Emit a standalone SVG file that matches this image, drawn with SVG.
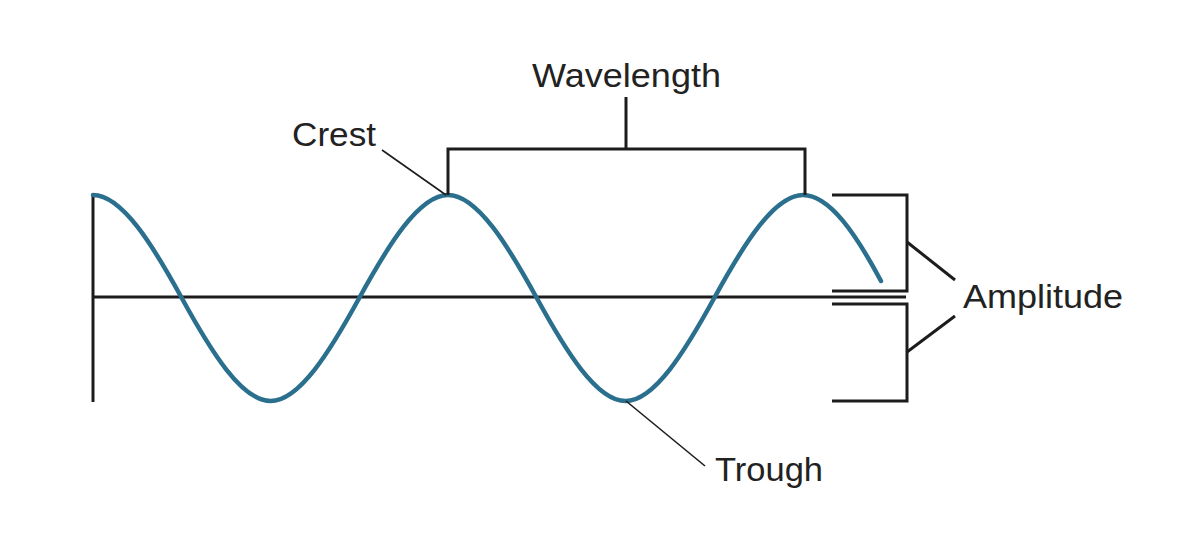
<svg xmlns="http://www.w3.org/2000/svg" width="1198" height="544" viewBox="0 0 1198 544">
<style>
.ax{stroke:#1c1c1c;stroke-width:3;fill:none;stroke-linecap:butt}
.ld{stroke:#1c1c1c;stroke-width:1.6;fill:none}
.br{stroke:#1c1c1c;stroke-width:3;fill:none;stroke-linejoin:miter}
.lb{font-family:"Liberation Sans",Arial,sans-serif;font-size:34px;fill:#222}
.wave{stroke:#2b6f8e;stroke-width:4.5;fill:none;stroke-linecap:round}
</style>
<rect width="1198" height="544" fill="#fff"/>
<g id="axes">
<line class="ax" x1="93" y1="194" x2="93" y2="402"/>
<line class="ax" x1="93" y1="297" x2="906" y2="297"/>
</g>
<g id="wave">
<path class="wave" d="M93,195 c28.9,0 59.8,50.2 88.75,103 s59.8,103 88.75,103 s59.8,-50.2 88.75,-103 s59.8,-103 88.75,-103 s59.8,50.2 88.75,103 s59.8,103 88.75,103 s59.8,-50.2 88.75,-103 s59.8,-103 88.75,-103 C829.7,195 856.3,234.8 881,281"/>
</g>
<g id="connectors">
<line class="ld" x1="382" y1="150" x2="446" y2="195"/>
<line class="ld" x1="626" y1="401" x2="705" y2="466"/>
<line class="ax" x1="907" y1="242" x2="955" y2="280"/>
<line class="ax" x1="907" y1="352" x2="955" y2="316"/>
</g>
<g id="wavelength">
<path class="br" d="M448,195 V149 H805 V195 M626,149 V97"/>
<text class="lb" x="626.5" y="87" text-anchor="middle" textLength="189" lengthAdjust="spacingAndGlyphs">Wavelength</text>
</g>
<g id="crest">
<text class="lb" x="292" y="146" textLength="84" lengthAdjust="spacingAndGlyphs">Crest</text>
</g>
<g id="trough">
<text class="lb" x="715" y="481" textLength="108" lengthAdjust="spacingAndGlyphs">Trough</text>
</g>
<g id="amplitude">
<path class="br" d="M832,195 H907 V291 H832"/>
<path class="br" d="M832,304 H907 V401 H832"/>
<text class="lb" x="963" y="308" textLength="160" lengthAdjust="spacingAndGlyphs">Amplitude</text>
</g>
</svg>
